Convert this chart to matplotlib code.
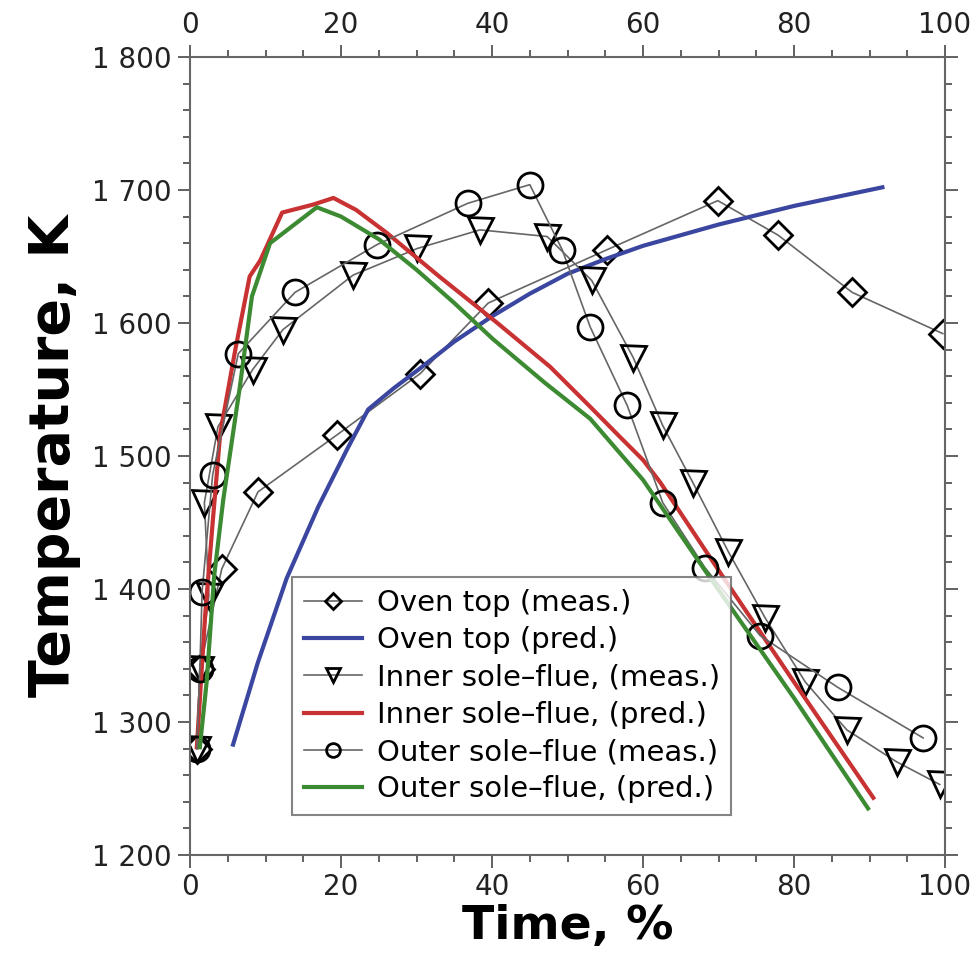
import numpy as np
import matplotlib
matplotlib.use("Agg")
import matplotlib.pyplot as plt
from matplotlib.ticker import MultipleLocator, FuncFormatter

# measured values (time in %, temperature in K)
time_oven_meas = [0.9, 1.3, 4.2, 9.0, 19.5, 30.5, 39.5, 55.2, 69.9, 77.9, 87.7, 99.7]
temp_oven_meas = [1280, 1340, 1415, 1473, 1516, 1562, 1615, 1655, 1692, 1666, 1623, 1592]

time_inner_meas = [0.9, 1.3, 2.5, 1.9, 3.7, 8.3, 12.3, 21.6, 30.1, 38.4, 47.3, 53.2,
                   58.7, 62.6, 66.6, 71.3, 76.2, 81.5, 87.0, 93.6, 99.3]
temp_inner_meas = [1280, 1340, 1395, 1465, 1522, 1565, 1595, 1636, 1656, 1670, 1665, 1632,
                   1574, 1523, 1480, 1428, 1378, 1330, 1294, 1270, 1253]

time_outer_meas = [0.9, 1.3, 1.6, 3.0, 6.4, 13.9, 24.8, 36.8, 45.0, 49.3, 53.0, 57.9,
                   62.6, 68.2, 75.5, 85.8, 97.1]
temp_outer_meas = [1280, 1340, 1398, 1486, 1577, 1623, 1659, 1690, 1704, 1655, 1597, 1538,
                   1465, 1416, 1365, 1326, 1288]

# predicted curves
time_oven_pred = [5.7, 9, 12.8, 17, 20.8, 23.6, 27, 30.5, 35, 40, 45, 50, 55, 60, 65,
                  70, 75, 80, 85, 91.7]
temp_oven_pred = [1283, 1345, 1408, 1462, 1505, 1535, 1551, 1566, 1586, 1605, 1622, 1637,
                  1648, 1658, 1666, 1674, 1681, 1688, 1694, 1702]

time_inner_pred = [0.9, 2.0, 3.0, 4.0, 6.0, 7.9, 9.3, 12.2, 16.3, 19.0, 22.0, 26.0, 33.0,
                   40.7, 47.7, 53.0, 57.0, 60.0, 62.3, 70.6, 80.0, 90.5]
temp_inner_pred = [1281, 1380, 1450, 1517, 1580, 1635, 1647, 1683, 1689, 1694, 1685, 1668,
                   1635, 1600, 1567, 1537, 1514, 1497, 1480, 1409, 1330, 1243]

time_outer_pred = [1.3, 2.2, 3.2, 4.4, 6.6, 8.2, 10.6, 16.8, 20.0, 25.0, 30.0, 35.0, 40.1,
                   47.0, 53.0, 56.5, 60.0, 68.2, 80.0, 89.8]
temp_outer_pred = [1281, 1330, 1410, 1467, 1552, 1620, 1660, 1687, 1680, 1663, 1640, 1615,
                   1588, 1555, 1528, 1505, 1482, 1414, 1318, 1235]

x_ticks = [0, 20, 40, 60, 80, 100]
y_ticks = [1200, 1300, 1400, 1500, 1600, 1700, 1800]

fig = plt.figure(figsize=(9.78, 9.64), dpi=100)
ax = fig.add_axes([0.1943, 0.1131, 0.7720, 0.8278])

meas_line = dict(color="#666666", lw=1.2, mfc="none", mec="black", mew=2.0)

ax.plot(time_oven_meas, temp_oven_meas, marker="D", ms=14, label="Oven top (meas.)", **meas_line)
ax.plot(time_oven_pred, temp_oven_pred, color="#3a46a0", lw=3, label="Oven top (pred.)")
ax.plot(time_inner_meas, temp_inner_meas, marker="v", ms=18, label="Inner sole–flue, (meas.)", **meas_line)
ax.plot(time_inner_pred, temp_inner_pred, color="#c83232", lw=3, label="Inner sole–flue, (pred.)")
ax.plot(time_outer_meas, temp_outer_meas, marker="o", ms=18, label="Outer sole–flue (meas.)", **meas_line)
ax.plot(time_outer_pred, temp_outer_pred, color="#3c8a32", lw=3, label="Outer sole–flue, (pred.)")

ax.set_xlim(0, 100)
ax.set_ylim(1200, 1800)
ax.set_xticks(x_ticks)
ax.set_yticks(y_ticks)
ax.xaxis.set_minor_locator(MultipleLocator(5))
ax.yaxis.set_minor_locator(MultipleLocator(20))
ax.yaxis.set_major_formatter(FuncFormatter(lambda v, p: f"{int(v) // 1000} {int(v) % 1000:03d}"))

ax.tick_params(which="both", direction="out", color="#555555", width=1.3,
               top=True, right=True, labeltop=True, labelsize=20, labelcolor="#222222")
ax.tick_params(which="major", length=9, pad=4)
ax.tick_params(which="minor", length=5)
for s in ax.spines.values():
    s.set_color("#666666")
    s.set_linewidth(1.5)

ax.set_xlabel("Time, %", fontsize=34, fontweight="bold", labelpad=2)
ax.set_ylabel("Temperature, K", fontsize=40, fontweight="bold", labelpad=8)

leg = ax.legend(loc="lower left", bbox_to_anchor=(0.135, 0.05), fontsize=21,
                fancybox=False, markerscale=0.55, handlelength=2.0, handletextpad=0.5,
                labelspacing=0.32, borderpad=0.4, borderaxespad=0)
leg.get_frame().set_edgecolor("#666666")
leg.get_frame().set_linewidth(1.5)

fig.savefig("out.png", dpi=100)
